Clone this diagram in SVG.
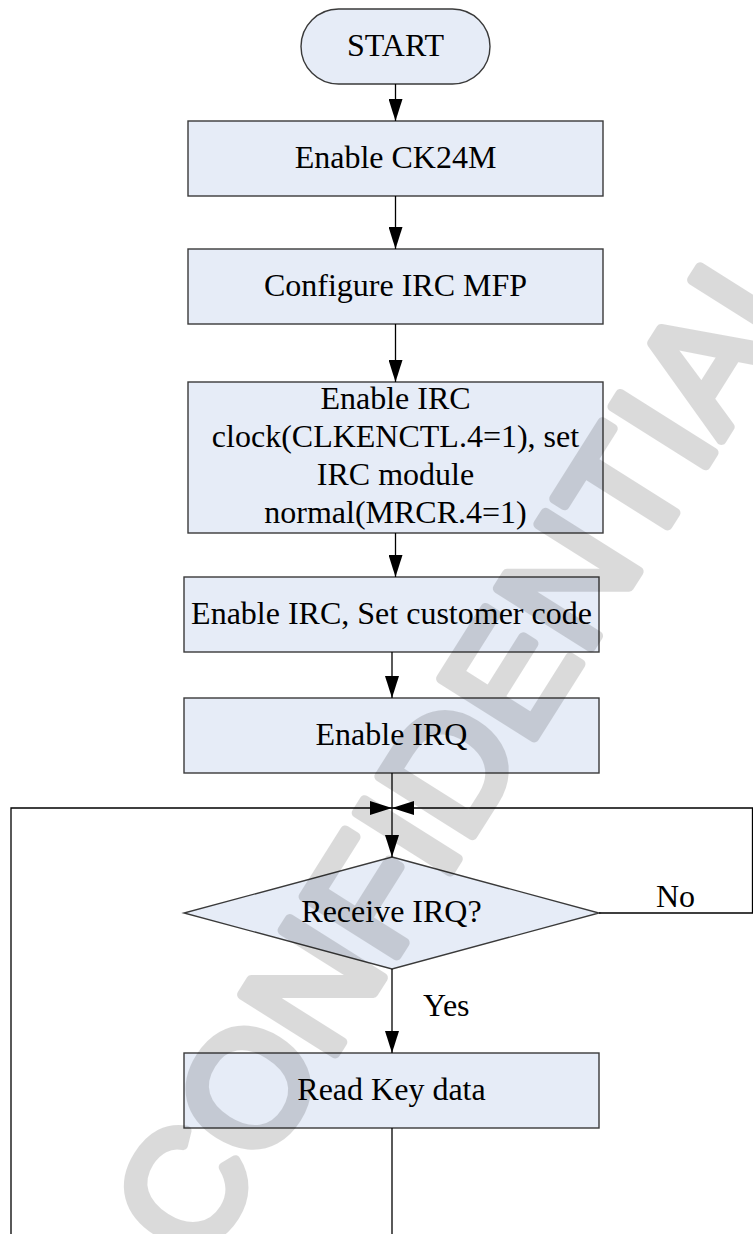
<svg xmlns="http://www.w3.org/2000/svg" width="753" height="1234" viewBox="0 0 753 1234">
<defs>
<style>
.box{fill:#E6ECF7;stroke:#3a3a3a;stroke-width:1.4}
.t{font-family:"Liberation Serif","Times New Roman",serif;font-size:32px;fill:#000;text-anchor:middle}
.lbl{font-family:"Liberation Serif","Times New Roman",serif;font-size:32px;fill:#000}
.ln{fill:none;stroke:#000;stroke-width:1.3}
.wm{font-family:"Liberation Sans",Arial,sans-serif;font-size:160px;fill:#000;stroke:#000;stroke-width:10;stroke-linejoin:round;stroke-linecap:round}
</style>
<marker id="ah" markerWidth="22" markerHeight="14" refX="22" refY="7" orient="auto" markerUnits="userSpaceOnUse" viewBox="0 0 22 14">
<path d="M0,0 L22,7 L0,14 Z" fill="#000"/>
</marker>
</defs>
<rect width="753" height="1234" fill="#fff"/>

<g id="n-start"><rect class="box" x="301" y="9" width="189" height="75" rx="37.5" ry="37.5"/><text class="t" x="395.5" y="56">START</text></g>
<g id="n-ck24m"><rect class="box" x="188" y="121" width="415" height="75"/><text class="t" x="395.5" y="168">Enable CK24M</text></g>
<g id="n-mfp"><rect class="box" x="188" y="249" width="415" height="75"/><text class="t" x="395.5" y="296">Configure IRC MFP</text></g>
<g id="n-clk"><rect class="box" x="188" y="382" width="415" height="151"/>
<text class="t" x="395.5" y="409">Enable IRC</text>
<text class="t" x="395.5" y="447">clock(CLKENCTL.4=1), set</text>
<text class="t" x="395.5" y="485">IRC module</text>
<text class="t" x="395.5" y="523">normal(MRCR.4=1)</text></g>
<g id="n-cust"><rect class="box" x="184" y="577" width="415" height="75"/><text class="t" x="391.5" y="624">Enable IRC, Set customer code</text></g>
<g id="n-irq"><rect class="box" x="184" y="698" width="415" height="75"/><text class="t" x="391.5" y="745">Enable IRQ</text></g>
<g id="n-dec"><polygon class="box" points="392,857 599,913 392,969 184,913"/><text class="t" x="391.5" y="922">Receive IRQ?</text></g>
<g id="n-read"><rect class="box" x="184" y="1053" width="415" height="75"/><text class="t" x="391.5" y="1100">Read Key data</text></g>

<g id="connectors">
<line class="ln" x1="395.5" y1="84" x2="395.5" y2="121" marker-end="url(#ah)"/>
<line class="ln" x1="395.5" y1="196" x2="395.5" y2="249" marker-end="url(#ah)"/>
<line class="ln" x1="395.5" y1="324" x2="395.5" y2="382" marker-end="url(#ah)"/>
<line class="ln" x1="395.5" y1="533" x2="395.5" y2="577" marker-end="url(#ah)"/>
<line class="ln" x1="392" y1="652" x2="392" y2="698" marker-end="url(#ah)"/>
<line class="ln" x1="392" y1="773" x2="392" y2="857" marker-end="url(#ah)"/>
<line class="ln" x1="392" y1="969" x2="392" y2="1053" marker-end="url(#ah)"/>
<polyline class="ln" points="392,1128 392,1240"/>
<polyline class="ln" points="11,1240 11,808 392,808" marker-end="url(#ah)"/>
<polyline class="ln" points="599,913 752.5,913 752.5,808 392,808" marker-end="url(#ah)"/>
<text class="lbl" x="656" y="907">No</text>
<text class="lbl" x="423" y="1016">Yes</text>
</g>

<g id="watermark" opacity="0.14"><text class="wm" x="513" y="771" text-anchor="middle" transform="rotate(-57.8 513 771)">CONFIDENTIAL</text></g>
</svg>
